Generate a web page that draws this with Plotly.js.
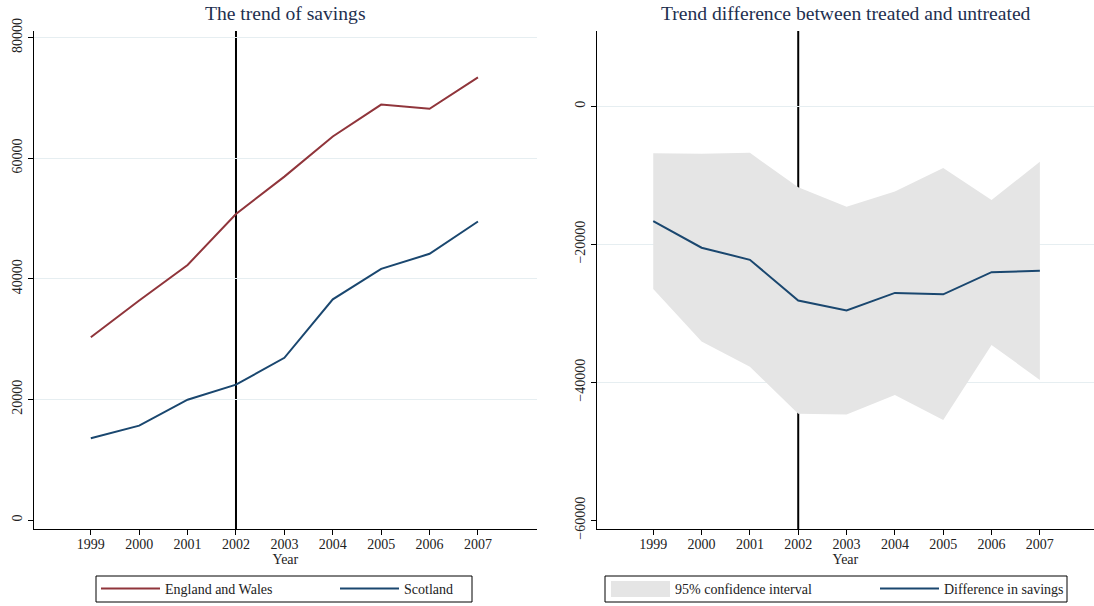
<!DOCTYPE html>
<html>
<head>
<meta charset="utf-8">
<script src="https://cdn.plot.ly/plotly-3.0.1.min.js"></script>
<style>html,body{margin:0;padding:0;background:#fff;}#chart{width:1094px;height:606px;}</style>
</head>
<body>
<div id="chart"></div>
<script>
// ---- data ----
const years = [1999, 2000, 2001, 2002, 2003, 2004, 2005, 2006, 2007];
const englandWales = [30300, 36400, 42300, 50750, 56950, 63600, 68900, 68200, 73400];
const scotland = [13550, 15650, 19950, 22450, 26900, 36600, 41650, 44150, 49500];
const diffSavings = [-16650, -20500, -22250, -28150, -29600, -27050, -27250, -24050, -23850];
const ciUpper = [-6800, -6900, -6750, -11750, -14550, -12350, -8950, -13600, -8050];
const ciLower = [-26500, -34100, -37750, -44550, -44650, -41850, -45450, -34600, -39650];
const treatmentYear = 2002;
const leftYTicks = [0, 20000, 40000, 60000, 80000];
const rightYTicks = [-60000, -40000, -20000, 0];
const titleLeft = "The trend of savings";
const titleRight = "Trend difference between treated and untreated";

const FONT = "Liberation Serif, Times New Roman, serif";
const NAVY = "#1a476f";
const MAROON = "#90353b";
const GRID = "#e6eef1";
const CIFILL = "#e5e5e5";
const W = 1094, H = 606;
const px = v => v / W, py = v => 1 - v / H;

// y / y2 carry axis line + gridlines; y3 / y4 (same ranges, overlaid) carry ticks + labels
const traces = [
  {x: years, y: englandWales, type: "scatter", mode: "lines", name: "England and Wales",
   line: {color: MAROON, width: 2}, xaxis: "x", yaxis: "y", legend: "legend"},
  {x: years, y: scotland, type: "scatter", mode: "lines", name: "Scotland",
   line: {color: NAVY, width: 2}, xaxis: "x", yaxis: "y3", legend: "legend2"},
  {x: years, y: ciLower, type: "scatter", mode: "lines", name: "lower",
   line: {width: 0, color: "rgba(0,0,0,0)"}, showlegend: false, hoverinfo: "skip",
   xaxis: "x2", yaxis: "y2"},
  {x: years, y: ciUpper, type: "scatter", mode: "lines", name: "95% confidence interval",
   fill: "tonexty", fillcolor: CIFILL, line: {width: 0, color: CIFILL},
   xaxis: "x2", yaxis: "y2", legend: "legend3"},
  {x: years, y: diffSavings, type: "scatter", mode: "lines", name: "Difference in savings",
   line: {color: NAVY, width: 2}, xaxis: "x2", yaxis: "y4", legend: "legend4"}
];

const ydom = [1 - 529.3 / H, 1 - 31 / H];
const baseX = {
  tickvals: years, tickformat: "d", ticks: "outside", ticklen: 5, tickcolor: "#000", tickwidth: 1,
  ticklabelstandoff: -3,
  showline: true, linecolor: "#000", linewidth: 1, showgrid: false, zeroline: false,
  tickfont: {family: FONT, size: 14, color: "#222"},
  title: {text: "Year", font: {family: FONT, size: 14, color: "#222"}, standoff: 0},
  automargin: false, fixedrange: true
};
const baseY = {
  showline: true, linecolor: "#000", linewidth: 1, ticks: "", showticklabels: false,
  showgrid: true, gridcolor: GRID, gridwidth: 1, zeroline: false,
  domain: ydom, automargin: false, fixedrange: true
};
const labelY = {
  ticks: "outside", ticklen: 5, tickcolor: "#000", tickwidth: 1, tickangle: -90, tickformat: "d",
  showline: false, showgrid: false, zeroline: false, side: "left",
  tickfont: {family: FONT, size: 14, color: "#222"}, domain: ydom,
  automargin: false, fixedrange: true
};

const leftRange = [-1540, 81100];
const rightRange = [-61300, 10900];

function legendAt(xLeft) {
  return {
    orientation: "h", x: px(xLeft - 5), y: py(589), xanchor: "left", yanchor: "middle",
    borderwidth: 0, bgcolor: "rgba(0,0,0,0)",
    font: {family: FONT, size: 14, color: "#222"}, itemwidth: 59
  };
}

const layout = {
  width: W, height: H,
  margin: {l: 0, r: 0, t: 0, b: 0},
  paper_bgcolor: "#fff", plot_bgcolor: "#fff",
  font: {family: FONT, color: "#222"},
  xaxis: Object.assign({}, baseX, {domain: [px(33.7), px(537)], range: [1997.82, 2008.22], anchor: "y"}),
  xaxis2: Object.assign({}, baseX, {domain: [px(596.7), 1], range: [1997.83, 2008.12], anchor: "y2"}),
  yaxis: Object.assign({}, baseY, {range: leftRange, anchor: "x",
    tickvals: leftYTicks.filter(v => v > leftYTicks[0])}),
  yaxis2: Object.assign({}, baseY, {range: rightRange, anchor: "x2",
    tickvals: rightYTicks.filter(v => v > rightYTicks[0])}),
  yaxis3: Object.assign({}, labelY, {overlaying: "y", anchor: "x", range: leftRange, tickvals: leftYTicks}),
  yaxis4: Object.assign({}, labelY, {overlaying: "y2", anchor: "x2", range: rightRange, tickvals: rightYTicks}),
  shapes: [
    {type: "line", xref: "x", yref: "y domain", x0: treatmentYear, x1: treatmentYear, y0: 0, y1: 1,
     line: {color: "#000", width: 2}, layer: "below"},
    {type: "line", xref: "x2", yref: "y2 domain", x0: treatmentYear, x1: treatmentYear, y0: 0, y1: 1,
     line: {color: "#000", width: 2}, layer: "below"},
    // legend frames
    {type: "rect", xref: "paper", yref: "paper", x0: px(96), x1: px(472), y0: py(576), y1: py(602),
     line: {color: "#000", width: 1}, fillcolor: "rgba(0,0,0,0)", layer: "above"},
    {type: "rect", xref: "paper", yref: "paper", x0: px(605), x1: px(1067), y0: py(576), y1: py(602),
     line: {color: "#000", width: 1}, fillcolor: "rgba(0,0,0,0)", layer: "above"},
    // CI legend key (taller block like the original)
    {type: "rect", xref: "paper", yref: "paper", x0: px(611), x1: px(670), y0: py(581), y1: py(597),
     line: {width: 0}, fillcolor: CIFILL, layer: "below"}
  ],
  annotations: [
    {text: titleLeft, xref: "paper", yref: "paper", x: px((33.7 + 537) / 2), y: py(14),
     xanchor: "center", yanchor: "middle", showarrow: false,
     font: {family: FONT, size: 19.6, color: "#1e2f4f"}},
    {text: titleRight, xref: "paper", yref: "paper", x: px(846), y: py(14),
     xanchor: "center", yanchor: "middle", showarrow: false,
     font: {family: FONT, size: 19.6, color: "#1e2f4f"}}
  ],
  legend: legendAt(101),
  legend2: legendAt(340),
  legend3: legendAt(611),
  legend4: legendAt(880),
  showlegend: true
};

Plotly.newPlot("chart", traces, layout, {displayModeBar: false, staticPlot: true});
</script>
</body>
</html>
